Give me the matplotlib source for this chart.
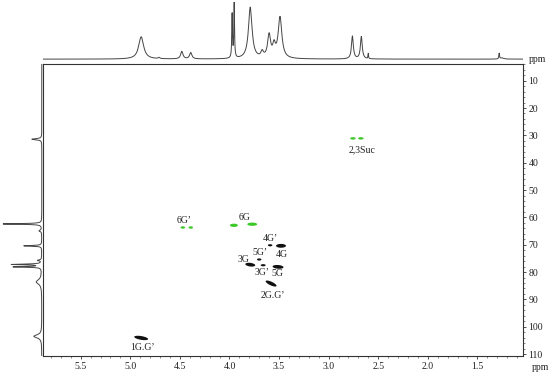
import numpy as np
import matplotlib
matplotlib.use("Agg")
import matplotlib.pyplot as plt
from matplotlib.ticker import MultipleLocator

plt.rcParams['font.family'] = ['Liberation Serif', 'DejaVu Serif']

# ---------------- data ----------------
# 1H projection (top): peak position (ppm), relative height, half width (ppm)
h_pos = [4.89, 4.71, 4.48, 4.39, 3.973, 3.952, 3.79, 3.67, 3.60, 3.55, 3.49, 2.76, 2.67, 2.60, 1.28, 1.25]
h_hgt = [0.39, 0.02, 0.13, 0.11, 0.77, 0.98, 0.90, 0.10, 0.40, 0.20, 0.72, 0.40, 0.39, 0.09, 0.10, 0.02]
h_wid = [0.030, 0.010, 0.014, 0.014, 0.004, 0.004, 0.022, 0.015, 0.018, 0.016, 0.022, 0.011, 0.011, 0.003, 0.004, 0.02]

# 13C projection (left)
c_pos = [31.4, 62.4, 64.9, 70.4, 75.7, 77.2, 78.1, 83.6, 103.5]
c_hgt = [0.25, 0.97, 0.07, 0.45, 0.10, 0.75, 0.70, 0.14, 0.20]
c_wid = [0.25, 0.15, 0.30, 0.15, 0.20, 0.15, 0.15, 1.00, 0.70]

# HSQC cross peaks: 1H ppm, 13C ppm, fwhm 1H, fwhm 13C, correlation, colour group
pk_h   = [2.755, 2.675, 3.955, 3.77, 4.47, 4.39, 3.59, 3.48, 3.70, 3.79, 3.66, 3.51, 3.58, 4.89]
pk_c   = [31.1, 31.1, 62.9, 62.5, 63.7, 63.7, 70.2, 70.4, 75.4, 77.3, 77.5, 78.1, 84.2, 104.1]
pk_wh  = [0.055, 0.055, 0.08, 0.10, 0.045, 0.045, 0.045, 0.10, 0.045, 0.10, 0.05, 0.11, 0.11, 0.14]
pk_wc  = [0.9, 0.9, 1.2, 1.2, 0.9, 0.9, 0.8, 1.4, 0.8, 1.4, 0.8, 1.4, 2.2, 1.6]
pk_rho = [0, 0, 0, 0, 0, 0, 0, 0, 0, -0.3, 0, -0.2, -0.75, -0.5]
pk_grp = ['g', 'g', 'g', 'g', 'g', 'g', 'k', 'k', 'k', 'k', 'k', 'k', 'k', 'k']

# Labels: text, 1H ppm, 13C ppm
lab_txt = ["2,3Suc", "6G", "6G’", "4G’", "4G", "5G’", "3G", "3G’", "5G", "2G.G’", "1G.G’"]
lab_h   = [2.66, 3.85, 4.46, 3.59, 3.47, 3.69, 3.86, 3.67, 3.52, 3.56, 4.88]
lab_c   = [35.4, 59.9, 61.1, 67.6, 73.5, 72.7, 75.3, 80.3, 80.5, 88.5, 107.7]

xticks = [5.5, 5.0, 4.5, 4.0, 3.5, 3.0, 2.5, 2.0, 1.5]
yticks = [10, 20, 30, 40, 50, 60, 70, 80, 90, 100, 110]

XLIM = (5.88, 1.04)
YLIM = (110.7, 3.9)

# ---------------- figure ----------------
W, H = 550, 376
fig = plt.figure(figsize=(W / 100, H / 100), dpi=100)

def rect(x0, y0, x1, y1):
    return [x0 / W, 1 - y1 / H, (x1 - x0) / W, (y1 - y0) / H]

ax = fig.add_axes(rect(43, 64, 523, 356))
axt = fig.add_axes(rect(43, 2, 523, 62))
axl = fig.add_axes(rect(2, 64, 43, 356))

# main contour panel
gx = np.linspace(0.9, 6.0, 2400)
gy = np.linspace(0, 115, 1600)
X, Y = np.meshgrid(gx, gy)
fields = {'g': np.zeros_like(X), 'k': np.zeros_like(X)}
for h, c, wh, wc, r, g in zip(pk_h, pk_c, pk_wh, pk_wc, pk_rho, pk_grp):
    sx = wh / 2.355
    sy = wc / 2.355
    u = (X - h) / sx
    v = (Y - c) / sy
    z = np.exp(-(u * u - 2 * r * u * v + v * v) / (2 * (1 - r * r)))
    fields[g] = np.maximum(fields[g], z)
ax.contourf(X, Y, fields['k'], levels=[0.5, 2], colors=['#111111'], antialiased=True)
ax.contourf(X, Y, fields['g'], levels=[0.5, 2], colors=['#3cc828'], antialiased=True)

for t, h, c in zip(lab_txt, lab_h, lab_c):
    ax.text(h, c, t, fontsize=7, ha='center', va='center', color='#222222')

ax.set_xlim(*XLIM)
ax.set_ylim(*YLIM)
ax.set_xticks(xticks)
ax.set_xticklabels([f"{v:.1f}" for v in xticks])
ax.set_yticks(yticks)
ax.xaxis.set_minor_locator(MultipleLocator(0.1))
ax.yaxis.set_minor_locator(MultipleLocator(2))
ax.yaxis.tick_right()
ax.tick_params(axis='both', which='major', labelsize=7, length=2.5, width=0.6,
               color='#333333', labelcolor='#222222', pad=1.5, direction='out')
ax.tick_params(axis='both', which='minor', length=1.3, width=0.5, color='#555555', direction='out')
for s in ax.spines.values():
    s.set_linewidth(0.8)
    s.set_color('#333333')
fig.text(541 / W, 1 - 367 / H, "ppm", fontsize=7, ha='center', va='center', color='#222222')

# top 1H projection
hx = np.linspace(XLIM[1], XLIM[0], 4000)
hy = np.zeros_like(hx)
for p, a, w in zip(h_pos, h_hgt, h_wid):
    hy += a / (1 + ((hx - p) / w) ** 2)
axt.plot(hx, hy, color='#444444', lw=0.7)
axt.set_xlim(*XLIM)
axt.set_ylim(-0.05, 1.0)
axt.axis('off')
fig.text(529 / W, 1 - 59.5 / H, "ppm", fontsize=7, ha='left', va='center', color='#222222')

# left 13C projection
cy = np.linspace(0, 115, 4000)
cx = np.zeros_like(cy)
for p, a, w in zip(c_pos, c_hgt, c_wid):
    cx += a / (1 + ((cy - p) / w) ** 2)
axl.plot(cx, cy, color='#444444', lw=0.7)
axl.set_xlim(1.0, -0.03)
axl.set_ylim(*YLIM)
axl.axis('off')

fig.savefig("out.png", dpi=100)
